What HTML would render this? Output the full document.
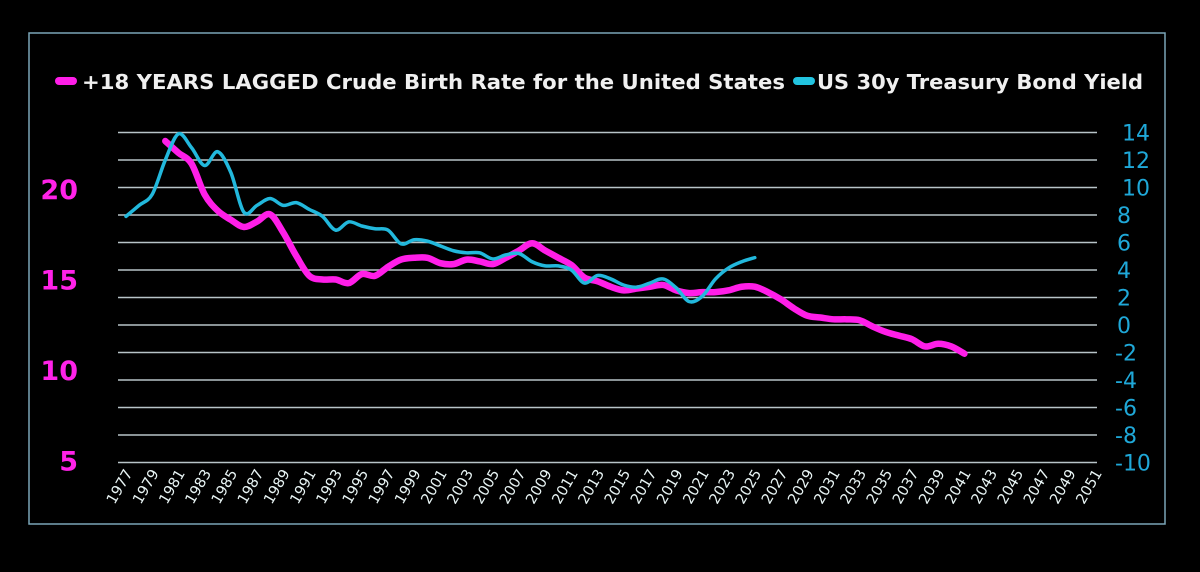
<!DOCTYPE html>
<html><head><meta charset="utf-8"><style>
html,body{margin:0;padding:0;background:#000;}
svg{display:block;font-family:"DejaVu Sans","Liberation Sans",sans-serif;}
</style></head><body>
<svg id="chart" width="1200" height="572" viewBox="0 0 1200 572" xmlns="http://www.w3.org/2000/svg">
<rect x="0" y="0" width="1200" height="572" fill="#000"/>
<rect x="29" y="33" width="1136" height="491" fill="none" stroke="#7aa6b8" stroke-width="1.5"/>
<g id="grid"></g>
<g id="leftAxis"></g>
<g id="rightAxis"></g>
<g id="xAxis"></g>
<g id="series"></g>
<g>
  <rect x="55" y="77" width="22" height="8" rx="4" fill="#ff1ee8"/>
  <text x="82" y="89" font-size="20" font-weight="bold" fill="#f0f0f0" textLength="703" lengthAdjust="spacingAndGlyphs">+18 YEARS LAGGED Crude Birth Rate for the United States</text>
  <rect x="793" y="77" width="22" height="8" rx="4" fill="#22c4e0"/>
  <text x="817" y="89" font-size="20" font-weight="bold" fill="#f0f0f0" textLength="326" lengthAdjust="spacingAndGlyphs">US 30y Treasury Bond Yield</text>
</g>
</svg>
<script>
const pinkYears = [1980,1981,1982,1983,1984,1985,1986,1987,1988,1989,1990,1991,1992,1993,1994,1995,1996,1997,1998,1999,2000,2001,2002,2003,2004,2005,2006,2007,2008,2009,2010,2011,2012,2013,2014,2015,2016,2017,2018,2019,2020,2021,2022,2023,2024,2025,2026,2027,2028,2029,2030,2031,2032,2033,2034,2035,2036,2037,2038,2039,2040,2041];
const birthRate = [22.65,22.0,21.4,19.7,18.8,18.3,17.9,18.2,18.6,17.6,16.3,15.2,15.0,15.0,14.8,15.3,15.2,15.7,16.1,16.2,16.2,15.9,15.85,16.1,16.0,15.85,16.2,16.6,17.0,16.6,16.2,15.8,15.1,14.9,14.6,14.4,14.5,14.6,14.7,14.4,14.25,14.3,14.3,14.4,14.6,14.6,14.3,13.9,13.4,13.0,12.9,12.8,12.8,12.75,12.4,12.1,11.9,11.7,11.3,11.45,11.3,10.9];
const blueYears = [1977,1978,1979,1980,1981,1982,1983,1984,1985,1986,1987,1988,1989,1990,1991,1992,1993,1994,1995,1996,1997,1998,1999,2000,2001,2002,2003,2004,2005,2006,2007,2008,2009,2010,2011,2012,2013,2014,2015,2016,2017,2018,2019,2020,2021,2022,2023,2024,2025];
const bondYield = [7.9,8.7,9.5,12.0,13.9,12.9,11.6,12.6,11.1,8.2,8.7,9.2,8.7,8.9,8.4,7.9,6.9,7.5,7.2,7.0,6.9,5.9,6.2,6.1,5.75,5.4,5.25,5.25,4.8,5.1,5.2,4.6,4.3,4.3,4.0,3.05,3.6,3.35,2.9,2.75,3.05,3.35,2.7,1.7,2.1,3.35,4.15,4.6,4.9];
const leftTicks = [20,15,10,5];
const rightTicks = [14,12,10,8,6,4,2,0,-2,-4,-6,-8,-10];
const xLabels = [];
for (let y = 1977; y <= 2051; y += 2) xLabels.push(String(y));

const NS = "http://www.w3.org/2000/svg";
const xS = yr => 126 + (yr - 1977) * 13.1;
const yL = v => 189 + (20 - v) * 18.1;
const yR = v => 325 - v * 13.75;
function mk(tag, attrs, parent) {
  const e = document.createElementNS(NS, tag);
  for (const k in attrs) e.setAttribute(k, attrs[k]);
  parent.appendChild(e);
  return e;
}
const grid = document.getElementById('grid');
rightTicks.forEach(t => {
  const l = mk('line', {x1:118, x2:1097, y1:yR(t), y2:yR(t), stroke:'#b8c4c8', 'stroke-width':1.6}, grid);
  
  
});
const la = document.getElementById('leftAxis');
leftTicks.forEach(t => {
  const e = mk('text', {x:78, y:yL(t)+10, 'font-size':27, 'font-weight':'bold', fill:'#ff22e8', 'text-anchor':'end'}, la);
  e.textContent = t;
  
  
});
const ra = document.getElementById('rightAxis');
rightTicks.forEach(t => {
  const x = t < 0 ? 1115 : (t >= 10 ? 1122 : 1117);
  const e = mk('text', {x:x, y:yR(t)+8, 'font-size':22, fill:'#1fa8d8'}, ra);
  e.textContent = t;
  
  
});
const xa = document.getElementById('xAxis');
xLabels.forEach(lb => {
  const x = xS(+lb) + 7, y = 473;
  const e = mk('text', {x:x, y:y, 'font-size':14.5, fill:'#e8f4f4', 'text-anchor':'end', transform:`rotate(-60 ${x} ${y})`}, xa);
  e.textContent = lb;
  
  
});
function smooth(pts) {
  let d = `M${pts[0][0]},${pts[0][1]}`;
  for (let i = 0; i < pts.length - 1; i++) {
    const p0 = pts[Math.max(0,i-1)], p1 = pts[i], p2 = pts[i+1], p3 = pts[Math.min(pts.length-1,i+2)];
    const c1x = p1[0] + (p2[0]-p0[0])/6, c1y = p1[1] + (p2[1]-p0[1])/6;
    const c2x = p2[0] - (p3[0]-p1[0])/6, c2y = p2[1] - (p3[1]-p1[1])/6;
    d += ` C${c1x},${c1y} ${c2x},${c2y} ${p2[0]},${p2[1]}`;
  }
  return d;
}
const sg = document.getElementById('series');
const pinkPts = pinkYears.map((y,i) => [xS(y), yL(birthRate[i])]);
const bluePts = blueYears.map((y,i) => [xS(y), yR(bondYield[i])]);
const p = mk('path', {d:smooth(pinkPts), fill:'none', stroke:'#ff1ee8', 'stroke-width':6.5, 'stroke-linecap':'round', 'stroke-linejoin':'round'}, sg);


const b = mk('path', {d:smooth(bluePts), fill:'none', stroke:'#22b8dc', 'stroke-width':3.5, 'stroke-linecap':'round', 'stroke-linejoin':'round'}, sg);


</script>
</body></html>
